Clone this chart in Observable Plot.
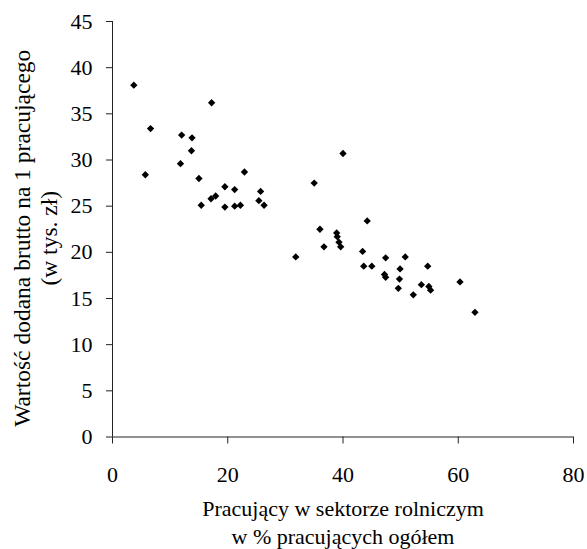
<!DOCTYPE html>
<html>
<head>
<meta charset="utf-8">
<script src="https://cdn.jsdelivr.net/npm/d3@7"></script>
<script src="https://cdn.jsdelivr.net/npm/@observablehq/plot@0.6"></script>
<style>
  html, body { margin: 0; padding: 0; background: #fff; }
  #chart svg { display: block; }
  #chart svg, #chart svg text { font-family: "Liberation Serif", "Times New Roman", serif !important; }
</style>
</head>
<body>
<div id="chart"></div>
<script>
// Share of workers in agriculture (%)
const agriShare = [3.7, 6.6, 5.7, 17.2, 12.0, 13.8, 13.7, 11.8, 15.0, 22.9,
  15.4, 17.1, 17.9, 19.5, 19.5, 21.2, 21.2, 22.2, 25.7, 25.4,
  26.3, 35.0, 40.0, 44.2, 36.0, 38.9, 39.0, 39.3, 39.6, 36.7,
  31.8, 43.4, 47.4, 50.8, 43.6, 45.0, 49.9, 54.7, 47.2, 47.4,
  49.8, 49.6, 52.2, 53.6, 54.9, 55.2, 60.3, 62.9];
// Gross value added per worker (thousand zł)
const gvaPerWorker = [38.1, 33.4, 28.4, 36.2, 32.7, 32.4, 31.0, 29.6, 28.0, 28.7,
  25.1, 25.8, 26.1, 27.1, 24.9, 26.8, 25.0, 25.1, 26.6, 25.6,
  25.1, 27.5, 30.7, 23.4, 22.5, 22.1, 21.7, 21.1, 20.6, 20.6,
  19.5, 20.1, 19.4, 19.5, 18.5, 18.5, 18.2, 18.5, 17.6, 17.3,
  17.1, 16.1, 15.4, 16.5, 16.3, 15.9, 16.8, 13.5];

const xTicks = [0, 20, 40, 60, 80];
const yTicks = [0, 5, 10, 15, 20, 25, 30, 35, 40, 45];
const xLabel = ["Pracujący w sektorze rolniczym\nw % pracujących ogółem"];
const yLabel = ["Wartość dodana brutto na 1 pracującego\n(w tys. zł)"];

const points = agriShare.map((x, i) => ({x, y: gvaPerWorker[i]}));

const chart = Plot.plot({
  width: 587,
  height: 549,
  marginLeft: 112,
  marginRight: 14,
  marginTop: 21,
  marginBottom: 112.5,
  style: {fontFamily: "'Liberation Serif', 'Times New Roman', serif", fontSize: "22px", color: "#000", background: "#fff"},
  x: {domain: [0, 80]},
  y: {domain: [0, 45]},
  marks: [
    Plot.ruleY([0], {stroke: "#222", strokeWidth: 1}),
    Plot.ruleX([0], {stroke: "#222", strokeWidth: 1}),
    Plot.axisX({ticks: xTicks, tickSize: 7, tickPadding: 22, label: null, fontSize: 22, stroke: "#222"}),
    Plot.axisY({ticks: yTicks, tickSize: 6, tickPadding: 14, label: null, fontSize: 22, stroke: "#222"}),
    Plot.dot(points, {x: "x", y: "y", symbol: "diamond2", r: 3.3, fill: "#000", stroke: "none"}),
    Plot.text(xLabel, {frameAnchor: "bottom", textAnchor: "middle", lineAnchor: "middle", dy: 84, fontSize: 22, lineHeight: 1.3, fill: "#000"}),
    Plot.text(yLabel, {frameAnchor: "left", textAnchor: "middle", lineAnchor: "middle", rotate: -90, dx: -78, dy: 9, fontSize: 23.5, lineHeight: 1.15, fill: "#000"})
  ]
});
document.getElementById("chart").append(chart);
</script>
</body>
</html>
